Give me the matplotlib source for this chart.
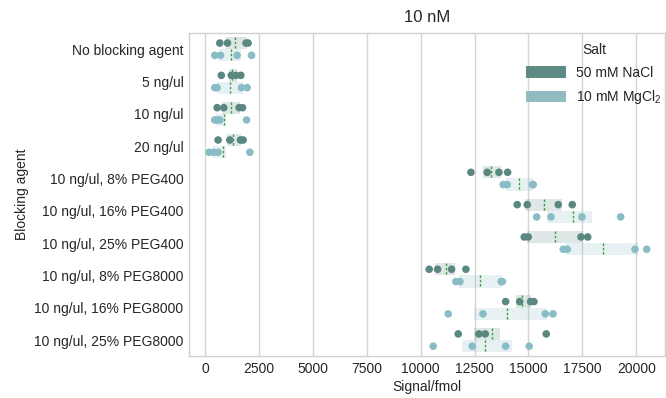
import numpy as np
import matplotlib
matplotlib.use("Agg")
import matplotlib.pyplot as plt
from matplotlib.patches import Patch

plt.rcParams["font.family"] = ["Liberation Sans", "DejaVu Sans"]
plt.rcParams["font.size"] = 10
plt.rcParams["text.color"] = "#262626"
plt.rcParams["axes.labelcolor"] = "#262626"
plt.rcParams["xtick.color"] = "#262626"
plt.rcParams["ytick.color"] = "#262626"

agents = [
    "No blocking agent",
    "5 ng/ul",
    "10 ng/ul",
    "20 ng/ul",
    "10 ng/ul, 8% PEG400",
    "10 ng/ul, 16% PEG400",
    "10 ng/ul, 25% PEG400",
    "10 ng/ul, 8% PEG8000",
    "10 ng/ul, 16% PEG8000",
    "10 ng/ul, 25% PEG8000",
]

# replicate signals (fmol) per blocking agent
nacl = [
    [691, 1048, 1906, 2004],
    [761, 1224, 1433, 1665],
    [566, 877, 1586, 1744],
    [612, 1155, 1651, 1772],
    [12332, 13088, 13631, 14035],
    [14480, 14944, 16381, 17031],
    [14805, 14990, 17434, 17745],
    [10398, 10788, 11437, 12100],
    [13942, 14591, 15101, 15254],
    [11743, 12703, 12996, 15825],
]
mgcl2 = [
    [459, 724, 1493, 2161],
    [459, 566, 1698, 1957],
    [459, 552, 691, 1929],
    [195, 413, 612, 2082],
    [13830, 14016, 15185, 15222],
    [15380, 16043, 17481, 19275],
    [16613, 16799, 19939, 20481],
    [11637, 11822, 13740, 13790],
    [11280, 12889, 15778, 16136],
    [10584, 12393, 13942, 15036],
]

salts = ["50 mM NaCl", "10 mM MgCl$_\\mathregular{2}$"]
colors = ["#5a8881", "#88bdc5"]
legend_colors = ["#5f8a84", "#8fbbc1"]
mean_color = "#3ca03c"

fig = plt.figure(figsize=(6.66, 3.98), dpi=100)
ax = fig.add_axes([0.284, 0.105, 0.7145, 0.812])

y = np.arange(len(agents))
offset = 0.19
for data, color, shift in zip([nacl, mgcl2], colors, [-offset, offset]):
    pos = y + shift
    # IQR box with a dashed mean line, no whiskers
    ax.boxplot(
        data, positions=pos, orientation="horizontal", widths=0.38,
        patch_artist=True, whis=0, showfliers=False, showcaps=False,
        showmeans=True, meanline=True,
        boxprops=dict(facecolor=color, alpha=0.2, edgecolor="none"),
        whiskerprops=dict(linewidth=0),
        medianprops=dict(linewidth=0),
        meanprops=dict(color=mean_color, linestyle=(0, (1.8, 1.3)),
                       linewidth=1.0),
        manage_ticks=False, zorder=2,
    )
    for i, vals in enumerate(data):
        ax.scatter(vals, np.full(len(vals), pos[i]), s=30, color=color,
                   edgecolor="none", zorder=3)

ax.set_yticks(y)
ax.set_yticklabels(agents)
ax.set_ylim(len(agents) - 0.5, -0.5)
ax.set_xlim(-730, 21330)
ax.set_xticks(np.arange(0, 20001, 2500))
ax.tick_params(length=0, pad=4)

ax.grid(axis="x", color="#d5d5d5", linewidth=1)
ax.set_axisbelow(True)
for s in ax.spines.values():
    s.set_color("#d0d0d0")
    s.set_linewidth(1)

ax.set_title("10 nM", fontsize=12, pad=8)
ax.set_xlabel("Signal/fmol", labelpad=3)
ax.set_ylabel("Blocking agent")

handles = [Patch(facecolor=c, edgecolor="none") for c in legend_colors]
ax.legend(handles, salts, title="Salt", loc="upper right",
          bbox_to_anchor=(1.005, 0.985), borderaxespad=0, frameon=False,
          handlelength=2.9, handleheight=0.9, handletextpad=0.7,
          labelspacing=0.6, fontsize=10, title_fontsize=10)

fig.savefig("out.png", dpi=100)
